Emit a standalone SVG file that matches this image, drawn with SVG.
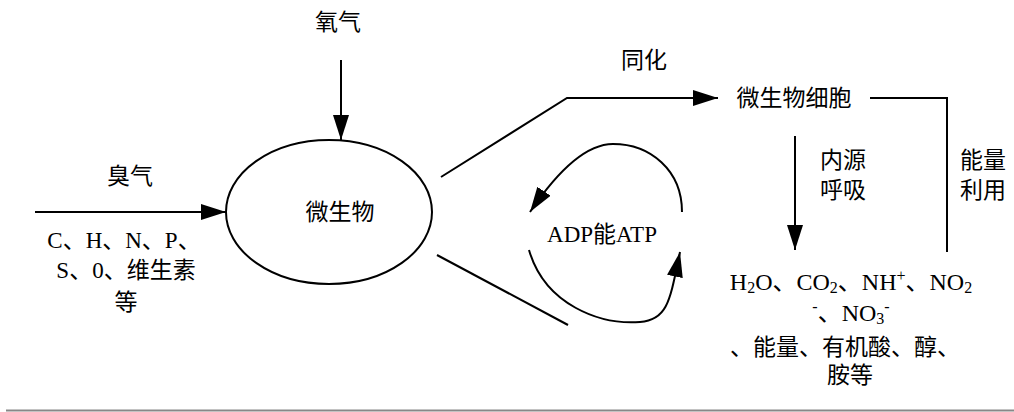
<svg xmlns="http://www.w3.org/2000/svg" width="1014" height="412" viewBox="0 0 1014 412">
<style>
text{font-family:"Liberation Serif","Noto Sans CJK SC",serif;font-size:23px;fill:#000;text-anchor:middle;dominant-baseline:central}
.ln{fill:none;stroke:#000;stroke-width:2}
.big{font-size:24px}
.sub{font-size:16px}
</style>
<defs>
<marker id="ah" markerUnits="userSpaceOnUse" markerWidth="26" markerHeight="18" refX="25" refY="8" orient="auto">
<path d="M0,0 L25,8 L0,16 z" fill="#000"/>
</marker>
</defs>
<rect width="1014" height="412" fill="#fff"/>
<g id="connectors">
<line class="ln" x1="35" y1="212" x2="226" y2="212" marker-end="url(#ah)"/>
<line class="ln" x1="341" y1="60" x2="341" y2="140" marker-end="url(#ah)"/>
<polyline class="ln" points="441,177 567,98 718,98" marker-end="url(#ah)"/>
<line class="ln" x1="437" y1="255" x2="568" y2="325"/>
<path class="ln" d="M682,212 C682,170 650,144 613,144 C585,144 555,175 530,212" marker-end="url(#ah)"/>
<path class="ln" d="M529,250 C545,305 600,325 640,322 C668,320 670,300 680,252" marker-end="url(#ah)"/>
<polyline class="ln" points="870,98 947,98 947,252"/>
<line class="ln" x1="795" y1="136" x2="795" y2="250" marker-end="url(#ah)"/>
<line x1="6" y1="410.5" x2="1014" y2="410.5" stroke="#888" stroke-width="2"/>
</g>
<g id="oxygen"><text x="338" y="22">氧气</text></g>
<g id="ozone"><text x="130" y="176">臭气</text></g>
<g id="nutrients">
<text x="124" y="240">C、H、N、P、</text>
<text x="126" y="270">S、0、维生素</text>
<text x="126" y="302">等</text>
</g>
<g id="microbe">
<ellipse class="ln" cx="329" cy="212" rx="103" ry="72"/>
<text x="340" y="212">微生物</text>
</g>
<g id="assimilation"><text x="644" y="60">同化</text></g>
<g id="cell"><text x="794" y="98">微生物细胞</text></g>
<g id="atp"><text x="602" y="234">ADP能ATP</text></g>
<g id="endogenous">
<text x="843" y="160">内源</text>
<text x="843" y="190">呼吸</text>
</g>
<g id="energyuse">
<text x="983" y="160">能量</text>
<text x="983" y="190">利用</text>
</g>
<g id="products">
<text class="big" x="851" y="282">H<tspan class="sub" dy="5">2</tspan><tspan dy="-5">O、CO</tspan><tspan class="sub" dy="5">2</tspan><tspan dy="-5">、NH</tspan><tspan class="sub" dy="-7">+</tspan><tspan dy="7">、NO</tspan><tspan class="sub" dy="5">2</tspan></text>
<text class="big" x="851" y="313"><tspan class="sub" dy="-7">-</tspan><tspan dy="7">、NO</tspan><tspan class="sub" dy="5">3</tspan><tspan class="sub" dy="-12">-</tspan></text>
<text x="845" y="347">、能量、有机酸、醇、</text>
<text x="850" y="375">胺等</text>
</g>
</svg>
